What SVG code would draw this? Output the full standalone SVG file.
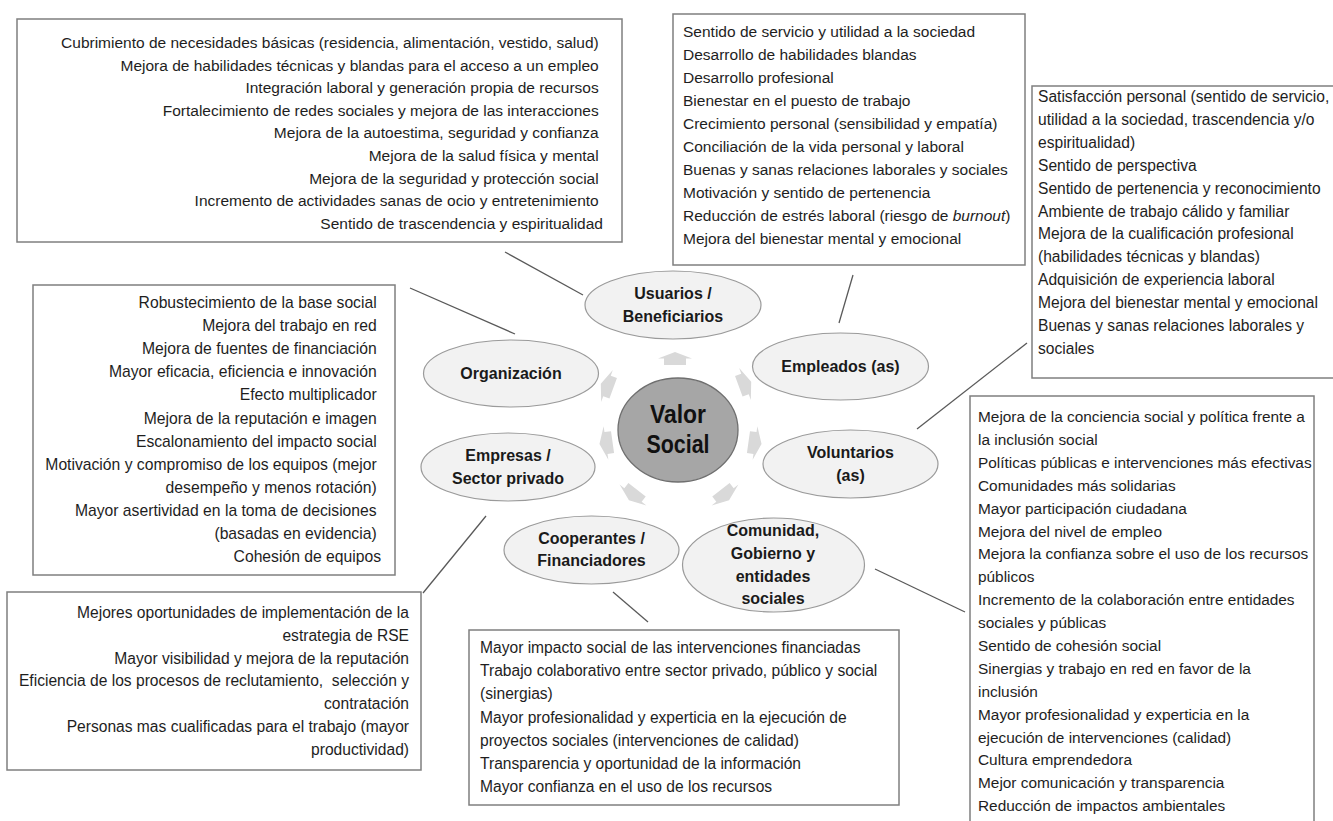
<svg xmlns="http://www.w3.org/2000/svg" xmlns:xlink="http://www.w3.org/1999/xlink" width="1333" height="821" viewBox="0 0 1333 821">
  <style>
    .box { fill: #ffffff; stroke: #7f7f7f; stroke-width: 1.5; }
    .t { font-family: "Liberation Sans", Arial, sans-serif; fill: #1e1e1e; }
    .end { text-anchor: end; }
    .node { fill: #f2f2f2; stroke: #9a9a9a; stroke-width: 1.2; }
    .lbl { font-family: "Liberation Sans", Arial, sans-serif; font-weight: bold; font-size: 16px; text-anchor: middle; fill: #1a1a1a; }
    .hub { fill: #a6a6a6; stroke: #6f6f6f; stroke-width: 1.3; }
    .hubtxt { font-family: "Liberation Sans", Arial, sans-serif; font-weight: bold; font-size: 25px; text-anchor: middle; fill: #111111; }
    .conn line { stroke: #595959; stroke-width: 1.3; }
    .arr { fill: #d9d9d9; }
  </style>
  <defs>
    <!-- short fat block arrow pointing up, centred on its origin -->
    <path id="blockArrow" d="M0,-6.6 L17,0 L11,0 L11,6.6 L-11,6.6 L-11,0 L-17,0 Z"/>
  </defs>

  <rect width="1333" height="821" fill="#ffffff"/>

  <!-- benefit boxes -->
  <g id="box-usuarios">
    <rect class="box" x="17" y="19" width="605" height="223"/>
    <text class="t end" font-size="15.5">
      <tspan x="603" y="48">Cubrimiento de necesidades básicas (residencia, alimentación, vestido, salud)</tspan>
      <tspan x="603" dy="22.6">Mejora de habilidades técnicas y blandas para el acceso a un empleo</tspan>
      <tspan x="603" dy="22.6">Integración laboral y generación propia de recursos</tspan>
      <tspan x="603" dy="22.6">Fortalecimiento de redes sociales y mejora de las interacciones</tspan>
      <tspan x="603" dy="22.6">Mejora de la autoestima, seguridad y confianza</tspan>
      <tspan x="603" dy="22.6">Mejora de la salud física y mental</tspan>
      <tspan x="603" dy="22.6">Mejora de la seguridad y protección social</tspan>
      <tspan x="603" dy="22.6">Incremento de actividades sanas de ocio y entretenimiento</tspan>
      <tspan x="603" dy="22.6">Sentido de trascendencia y espiritualidad</tspan>
    </text>
  </g>

  <g id="box-empleados">
    <rect class="box" x="673" y="14" width="352" height="251"/>
    <text class="t" font-size="15.5">
      <tspan x="683" y="37">Sentido de servicio y utilidad a la sociedad</tspan>
      <tspan x="683" dy="23">Desarrollo de habilidades blandas</tspan>
      <tspan x="683" dy="23">Desarrollo profesional</tspan>
      <tspan x="683" dy="23">Bienestar en el puesto de trabajo</tspan>
      <tspan x="683" dy="23">Crecimiento personal (sensibilidad y empatía)</tspan>
      <tspan x="683" dy="23">Conciliación de la vida personal y laboral</tspan>
      <tspan x="683" dy="23">Buenas y sanas relaciones laborales y sociales</tspan>
      <tspan x="683" dy="23">Motivación y sentido de pertenencia</tspan>
      <tspan x="683" dy="23">Reducción de estrés laboral (riesgo de <tspan font-style="italic">burnout</tspan>)</tspan>
      <tspan x="683" dy="23">Mejora del bienestar mental y emocional</tspan>
    </text>
  </g>

  <g id="box-voluntarios">
    <rect class="box" x="1032" y="86" width="310" height="292"/>
    <text class="t" font-size="15.6">
      <tspan x="1038" y="102">Satisfacción personal (sentido de servicio,</tspan>
      <tspan x="1038" dy="22.9">utilidad a la sociedad, trascendencia y/o</tspan>
      <tspan x="1038" dy="22.9">espiritualidad)</tspan>
      <tspan x="1038" dy="22.9">Sentido de perspectiva</tspan>
      <tspan x="1038" dy="22.9">Sentido de pertenencia y reconocimiento</tspan>
      <tspan x="1038" dy="22.9">Ambiente de trabajo cálido y familiar</tspan>
      <tspan x="1038" dy="22.9">Mejora de la cualificación profesional</tspan>
      <tspan x="1038" dy="22.9">(habilidades técnicas y blandas)</tspan>
      <tspan x="1038" dy="22.9">Adquisición de experiencia laboral</tspan>
      <tspan x="1038" dy="22.9">Mejora del bienestar mental y emocional</tspan>
      <tspan x="1038" dy="22.9">Buenas y sanas relaciones laborales y</tspan>
      <tspan x="1038" dy="22.9">sociales</tspan>
    </text>
  </g>

  <g id="box-organizacion">
    <rect class="box" x="33" y="285" width="362" height="290"/>
    <text class="t end" font-size="15.7">
      <tspan x="381" y="308">Robustecimiento de la base social</tspan>
      <tspan x="381" dy="23.1">Mejora del trabajo en red</tspan>
      <tspan x="381" dy="23.1">Mejora de fuentes de financiación</tspan>
      <tspan x="381" dy="23.1">Mayor eficacia, eficiencia e innovación</tspan>
      <tspan x="381" dy="23.1">Efecto multiplicador</tspan>
      <tspan x="381" dy="23.1">Mejora de la reputación e imagen</tspan>
      <tspan x="381" dy="23.1">Escalonamiento del impacto social</tspan>
      <tspan x="381" dy="23.1">Motivación y compromiso de los equipos (mejor</tspan>
      <tspan x="381" dy="23.1">desempeño y menos rotación)</tspan>
      <tspan x="381" dy="23.1">Mayor asertividad en la toma de decisiones</tspan>
      <tspan x="381" dy="23.1">(basadas en evidencia)</tspan>
      <tspan x="381" dy="23.1">Cohesión de equipos</tspan>
    </text>
  </g>

  <g id="box-empresas">
    <rect class="box" x="7" y="592" width="414" height="178"/>
    <text class="t end" font-size="15.6" xml:space="preserve"><tspan x="409" y="618">Mejores oportunidades de implementación de la</tspan><tspan x="409" dy="22.8">estrategia de RSE</tspan><tspan x="409" dy="22.8">Mayor visibilidad y mejora de la reputación</tspan><tspan x="409" dy="22.8">Eficiencia de los procesos de reclutamiento,  selección y</tspan><tspan x="409" dy="22.8">contratación</tspan><tspan x="409" dy="22.8">Personas mas cualificadas para el trabajo (mayor</tspan><tspan x="409" dy="22.8">productividad)</tspan></text>
  </g>

  <g id="box-cooperantes">
    <rect class="box" x="469" y="630" width="430" height="175"/>
    <text class="t" font-size="15.6">
      <tspan x="480" y="653">Mayor impacto social de las intervenciones financiadas</tspan>
      <tspan x="480" dy="23.2">Trabajo colaborativo entre sector privado, público y social</tspan>
      <tspan x="480" dy="23.2">(sinergias)</tspan>
      <tspan x="480" dy="23.2">Mayor profesionalidad y experticia en la ejecución de</tspan>
      <tspan x="480" dy="23.2">proyectos sociales (intervenciones de calidad)</tspan>
      <tspan x="480" dy="23.2">Transparencia y oportunidad de la información</tspan>
      <tspan x="480" dy="23.2">Mayor confianza en el uso de los recursos</tspan>
    </text>
  </g>

  <g id="box-comunidad">
    <rect class="box" x="970" y="396" width="344" height="440"/>
    <text class="t" font-size="15.4">
      <tspan x="978" y="422">Mejora de la conciencia social y política frente a</tspan>
      <tspan x="978" dy="22.9">la inclusión social</tspan>
      <tspan x="978" dy="22.9">Políticas públicas e intervenciones más efectivas</tspan>
      <tspan x="978" dy="22.9">Comunidades más solidarias</tspan>
      <tspan x="978" dy="22.9">Mayor participación ciudadana</tspan>
      <tspan x="978" dy="22.9">Mejora del nivel de empleo</tspan>
      <tspan x="978" dy="22.9">Mejora la confianza sobre el uso de los recursos</tspan>
      <tspan x="978" dy="22.9">públicos</tspan>
      <tspan x="978" dy="22.9">Incremento de la colaboración entre entidades</tspan>
      <tspan x="978" dy="22.9">sociales y públicas</tspan>
      <tspan x="978" dy="22.9">Sentido de cohesión social</tspan>
      <tspan x="978" dy="22.9">Sinergias y trabajo en red en favor de la</tspan>
      <tspan x="978" dy="22.9">inclusión</tspan>
      <tspan x="978" dy="22.9">Mayor profesionalidad y experticia en la</tspan>
      <tspan x="978" dy="22.9">ejecución de intervenciones (calidad)</tspan>
      <tspan x="978" dy="22.9">Cultura emprendedora</tspan>
      <tspan x="978" dy="22.9">Mejor comunicación y transparencia</tspan>
      <tspan x="978" dy="22.9">Reducción de impactos ambientales</tspan>
    </text>
  </g>

  <!-- connectors from each stakeholder to its box -->
  <g id="connectors" class="conn">
    <line x1="505" y1="252" x2="583" y2="295"/>
    <line x1="853" y1="275" x2="839" y2="323"/>
    <line x1="917" y1="429" x2="1027" y2="343"/>
    <line x1="875" y1="569" x2="965" y2="612"/>
    <line x1="613" y1="592" x2="648" y2="622"/>
    <line x1="486" y1="516" x2="423" y2="593"/>
    <line x1="410" y1="288" x2="515" y2="334"/>
  </g>

  <!-- radial arrows around the hub -->
  <g id="hub-arrows" class="arr">
    <use xlink:href="#blockArrow" transform="translate(675,358.5)"/>
    <use xlink:href="#blockArrow" transform="translate(745,384) rotate(70)"/>
    <use xlink:href="#blockArrow" transform="translate(755,443) rotate(98)"/>
    <use xlink:href="#blockArrow" transform="translate(725,495) rotate(142)"/>
    <use xlink:href="#blockArrow" transform="translate(633,495) rotate(218)"/>
    <use xlink:href="#blockArrow" transform="translate(606,443) rotate(262)"/>
    <use xlink:href="#blockArrow" transform="translate(607,386) rotate(290)"/>
  </g>

  <!-- stakeholder nodes -->
  <g id="node-usuarios">
    <ellipse class="node" cx="673" cy="305" rx="88" ry="34"/>
    <text class="lbl"><tspan x="673" y="299">Usuarios /</tspan><tspan x="673" y="322">Beneficiarios</tspan></text>
  </g>
  <g id="node-empleados">
    <ellipse class="node" cx="840.5" cy="366.5" rx="88" ry="33.5"/>
    <text class="lbl" x="840.5" y="372">Empleados (as)</text>
  </g>
  <g id="node-voluntarios">
    <ellipse class="node" cx="850.5" cy="464" rx="87.5" ry="34"/>
    <text class="lbl"><tspan x="850.5" y="458">Voluntarios</tspan><tspan x="850.5" y="481">(as)</tspan></text>
  </g>
  <g id="node-comunidad">
    <ellipse class="node" cx="773.5" cy="565" rx="91" ry="47"/>
    <text class="lbl"><tspan x="773" y="536">Comunidad,</tspan><tspan x="773" y="559">Gobierno y</tspan><tspan x="773" y="582">entidades</tspan><tspan x="773" y="604">sociales</tspan></text>
  </g>
  <g id="node-cooperantes">
    <ellipse class="node" cx="591.5" cy="550" rx="87.5" ry="34"/>
    <text class="lbl"><tspan x="591.5" y="544">Cooperantes /</tspan><tspan x="591.5" y="566">Financiadores</tspan></text>
  </g>
  <g id="node-empresas">
    <ellipse class="node" cx="508" cy="467" rx="87" ry="34"/>
    <text class="lbl"><tspan x="508" y="461">Empresas /</tspan><tspan x="508" y="484">Sector privado</tspan></text>
  </g>
  <g id="node-organizacion">
    <ellipse class="node" cx="511" cy="373.5" rx="87.5" ry="33.5"/>
    <text class="lbl" x="511" y="379">Organización</text>
  </g>

  <!-- central hub -->
  <g id="node-valor-social">
    <ellipse class="hub" cx="678" cy="430" rx="60" ry="52"/>
    <text class="hubtxt" x="678" y="423" textLength="56" lengthAdjust="spacingAndGlyphs">Valor</text>
    <text class="hubtxt" x="678" y="453" textLength="63" lengthAdjust="spacingAndGlyphs">Social</text>
  </g>
</svg>
